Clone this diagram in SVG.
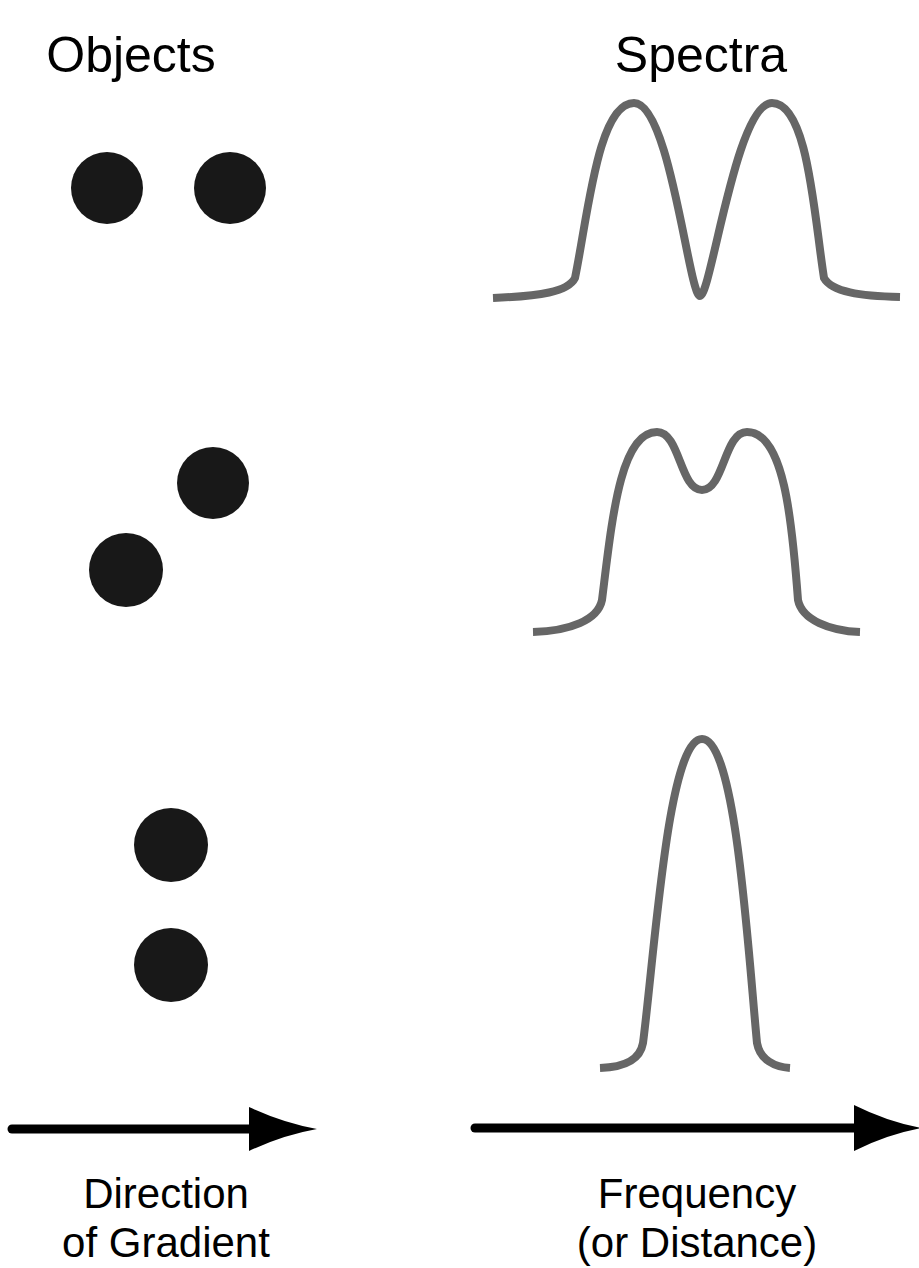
<svg xmlns="http://www.w3.org/2000/svg" width="919" height="1268" viewBox="0 0 919 1268">
<style>
.t{font-family:"Liberation Sans",Arial,sans-serif;font-size:42px;fill:#000;text-anchor:middle}
.h{font-family:"Liberation Sans",Arial,sans-serif;font-size:50px;fill:#000;text-anchor:middle}
.dot{fill:#181818}
.sp{fill:none;stroke:#666;stroke-width:8;stroke-linecap:butt;stroke-linejoin:round}
.ax{stroke:#000;stroke-width:9;stroke-linecap:round;fill:none}
.hd{fill:#000}
</style>
<rect width="919" height="1268" fill="#fff"/>
<g id="title-objects"><text class="h" x="131" y="72">Objects</text></g>
<g id="title-spectra"><text class="h" x="701" y="72">Spectra</text></g>
<g id="objects-1"><circle class="dot" cx="107" cy="188" r="36"/><circle class="dot" cx="230" cy="188" r="36"/></g>
<g id="objects-2"><circle class="dot" cx="213" cy="483" r="36"/><circle class="dot" cx="126" cy="570" r="37"/></g>
<g id="objects-3"><circle class="dot" cx="171" cy="845" r="37"/><circle class="dot" cx="171" cy="965" r="37"/></g>
<g id="spectrum-1"><path class="sp" d="M493,298 C540,296 568,292 575,278 C588,215 598,103 634,103 C670,103 689,296 700,296 C711,296 736,103 772,103 C808,103 814,215 824,278 C832,292 860,296 900,297"/></g>
<g id="spectrum-2"><path class="sp" d="M533,632 C570,631 598,620 602,600 C612,520 620,432 657,432 C680,432 680,490 702,490 C724,490 724,432 747,432 C784,432 792,520 798,600 C802,620 830,631 860,632"/></g>
<g id="spectrum-3"><path class="sp" d="M600,1068 C625,1067 640,1060 643,1043 C655,950 668,739 702,739 C736,739 748,950 757,1043 C760,1060 775,1067 790,1068"/></g>
<g id="connectors">
<line class="ax" x1="12" y1="1129" x2="252" y2="1129"/>
<path class="hd" d="M249,1107 Q283,1123 317,1129 Q283,1135 249,1151 Z"/>
<line class="ax" x1="475" y1="1128" x2="858" y2="1128"/>
<path class="hd" d="M854,1105 Q888,1122 922,1128 Q888,1134 854,1151 Z"/>
</g>
<g id="label-direction"><text class="t" x="166" y="1208">Direction</text><text class="t" x="166" y="1257">of Gradient</text></g>
<g id="label-frequency"><text class="t" x="697" y="1208">Frequency</text><text class="t" x="697" y="1257">(or Distance)</text></g>
</svg>
